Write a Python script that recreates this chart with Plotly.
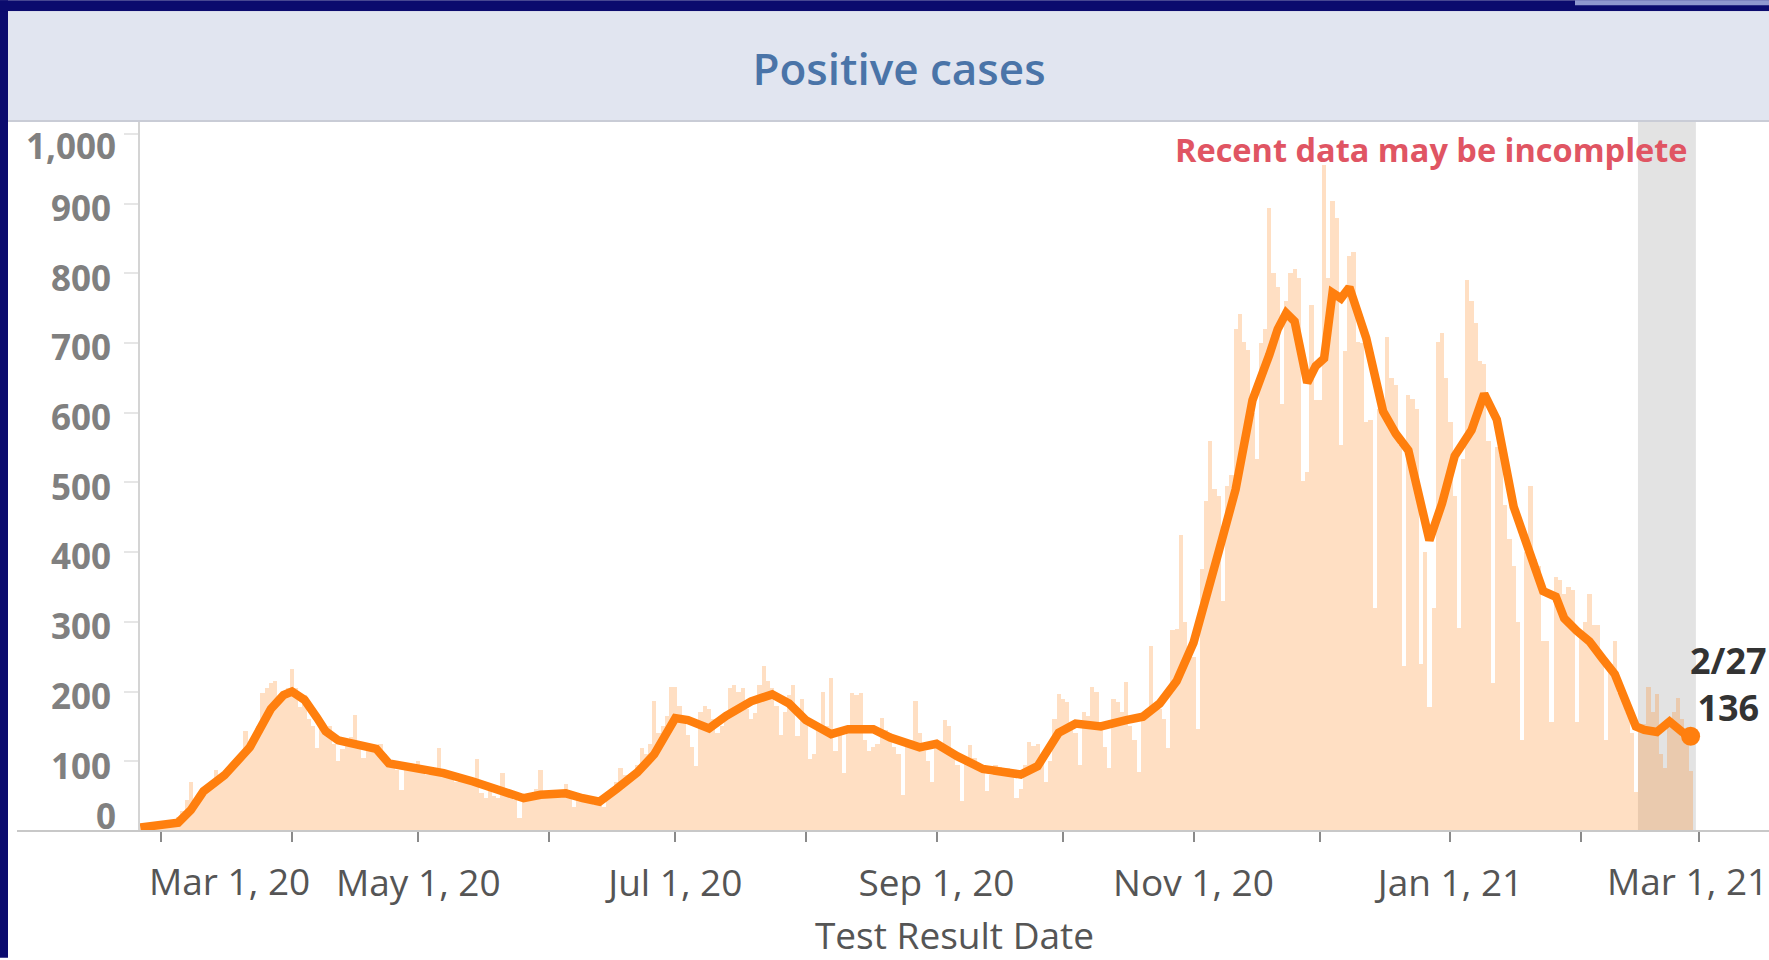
import pandas as pd
import plotly.graph_objects as go

# ---------------- data ----------------
# daily positive cases (bars), one list per month, starting 2020-02-25
bars_2020_02 = [2, 3, 5, 4, 6]
bars_2020_03 = [8, 9, 12, 15, 20, 28, 45, 70, 45, 50, 55, 62, 65, 87, 72, 78, 85, 95, 100, 108,
                143, 115, 125, 150, 198, 205, 212, 215, 190, 200, 205]
bars_2020_04 = [233, 205, 178, 195, 160, 150, 119, 155, 140, 150, 125, 100, 118, 130, 135, 166, 120, 105,
                115, 122, 118, 125, 110, 100, 95, 88, 59, 98, 95, 92]
bars_2020_05 = [100, 88, 80, 85, 90, 119, 88, 82, 75, 70, 80, 78, 72, 68, 104, 55, 48, 58, 50, 48,
                83, 52, 48, 45, 19, 44, 50, 55, 60, 87, 52]
bars_2020_06 = [55, 50, 58, 52, 67, 48, 35, 45, 50, 42, 40, 38, 45, 35, 55, 62, 70, 90, 80, 72,
                85, 95, 119, 110, 125, 186, 140, 150, 165, 207]
bars_2020_07 = [207, 180, 160, 138, 120, 93, 170, 180, 175, 160, 140, 150, 165, 205, 209, 200, 205, 175,
                160, 169, 210, 236, 215, 205, 180, 137, 170, 195, 209, 136, 190]
bars_2020_08 = [160, 104, 110, 145, 200, 150, 219, 115, 140, 83, 150, 198, 195, 198, 130, 115, 120, 125,
                162, 145, 140, 120, 110, 51, 125, 130, 186, 140, 115, 100, 70]
bars_2020_09 = [130, 120, 159, 150, 110, 95, 43, 100, 123, 105, 98, 90, 57, 80, 95, 92, 88, 90, 85, 47,
                60, 95, 128, 122, 125, 110, 71, 100, 160, 197]
bars_2020_10 = [190, 185, 150, 140, 94, 170, 165, 207, 200, 150, 120, 90, 190, 185, 170, 214, 150, 130,
                85, 160, 175, 266, 180, 175, 160, 119, 288, 290, 424, 300, 260]
bars_2020_11 = [250, 147, 376, 473, 559, 491, 480, 330, 495, 510, 720, 741, 702, 690, 600, 534, 700, 720,
                893, 800, 780, 612, 760, 800, 806, 793, 502, 515, 754, 618]
bars_2020_12 = [618, 955, 793, 903, 880, 553, 689, 825, 830, 702, 700, 586, 590, 320, 605, 610, 709, 650,
                640, 553, 236, 625, 620, 605, 240, 400, 178, 320, 702, 715, 650]
bars_2021_01 = [586, 480, 291, 534, 791, 760, 728, 674, 670, 560, 213, 551, 540, 468, 419, 380, 300, 130,
                400, 495, 390, 380, 272, 272, 157, 365, 360, 340, 350, 345, 157]
bars_2021_02 = [280, 300, 340, 296, 296, 250, 130, 240, 272, 198, 198, 170, 140, 56, 154, 154, 206, 170,
                196, 110, 91, 150, 170, 191, 160, 130, 86]

# 7-day average (line)
avg_dates = ["2020-02-25", "2020-02-29", "2020-03-05", "2020-03-08", "2020-03-11", "2020-03-16",
             "2020-03-22", "2020-03-27", "2020-03-30", "2020-04-01", "2020-04-04", "2020-04-07",
             "2020-04-09", "2020-04-12", "2020-04-15", "2020-04-21", "2020-04-24", "2020-04-28",
             "2020-05-01", "2020-05-07", "2020-05-14", "2020-05-21", "2020-05-26", "2020-05-30",
             "2020-06-05", "2020-06-09", "2020-06-13", "2020-06-17", "2020-06-22", "2020-06-26",
             "2020-06-29", "2020-07-01", "2020-07-04", "2020-07-09", "2020-07-13", "2020-07-19",
             "2020-07-24", "2020-07-28", "2020-08-01", "2020-08-07", "2020-08-11", "2020-08-17",
             "2020-08-21", "2020-08-28", "2020-09-01", "2020-09-06", "2020-09-12", "2020-09-17",
             "2020-09-21", "2020-09-25", "2020-09-28", "2020-09-30", "2020-10-04", "2020-10-10",
             "2020-10-16", "2020-10-20", "2020-10-24", "2020-10-28", "2020-11-01", "2020-11-04",
             "2020-11-07", "2020-11-11", "2020-11-15", "2020-11-19", "2020-11-21", "2020-11-23",
             "2020-11-25", "2020-11-28", "2020-11-30", "2020-12-02", "2020-12-04", "2020-12-06",
             "2020-12-08", "2020-12-12", "2020-12-16", "2020-12-19", "2020-12-22", "2020-12-27",
             "2020-12-30", "2021-01-02", "2021-01-06", "2021-01-09", "2021-01-12", "2021-01-16",
             "2021-01-20", "2021-01-23", "2021-01-26", "2021-01-28", "2021-01-31", "2021-02-03",
             "2021-02-06", "2021-02-09", "2021-02-11", "2021-02-14", "2021-02-16", "2021-02-19",
             "2021-02-22", "2021-02-25", "2021-02-27"]
avg_values = [5, 8, 12, 30, 57, 80,
              120, 175, 195, 200, 188, 162,
              143, 130, 125, 118, 97, 92,
              91, 83, 71, 57, 47, 52,
              54, 47, 42, 60, 84, 110,
              145, 162, 159, 147, 165, 186,
              196, 183, 159, 139, 146, 146,
              134, 120, 125, 107, 89, 84,
              81, 93, 120, 141, 154, 150,
              159, 164, 183, 215, 270, 340,
              401, 490, 618, 683, 720, 743,
              731, 643, 667, 678, 772, 764,
              780, 707, 602, 570, 546, 417,
              470, 538, 575, 627, 590, 465,
              400, 344, 336, 305, 287, 272,
              248, 225, 195, 150, 145, 142,
              157, 142, 136]

last_label_date = "2/27"
recent_band = ["2021-02-14 12:00", "2021-02-28 06:00"]

month_ticks = ["2020-03-01", "2020-04-01", "2020-05-01", "2020-06-01", "2020-07-01", "2020-08-01",
               "2020-09-01", "2020-10-01", "2020-11-01", "2020-12-01", "2021-01-01", "2021-02-01",
               "2021-03-01"]
month_tick_text = ["", "", "May 1, 20", "", "Jul 1, 20", "", "Sep 1, 20", "", "Nov 1, 20", "",
                   "Jan 1, 21", "", ""]
edge_labels = [("2020-03-01", "Mar 1, 20", 68), ("2021-03-01", "Mar 1, 21", -12)]
y_ticks = [0, 100, 200, 300, 400, 500, 600, 700, 800, 900, 1000]
y_tick_text = ["", "100", "200", "300", "400", "500", "600", "700", "800", "900", ""]
y_edge_labels = [(0, "0", 16), (1000, "1,000", -12)]

daily_cases = (bars_2020_02 + bars_2020_03 + bars_2020_04 + bars_2020_05 + bars_2020_06 + bars_2020_07
               + bars_2020_08 + bars_2020_09 + bars_2020_10 + bars_2020_11 + bars_2020_12
               + bars_2021_01 + bars_2021_02)
dates = pd.date_range("2020-02-25", periods=len(daily_cases), freq="D")

# ---------------- geometry helpers ----------------
W, H = 1769, 960
L, R, T, B = 140, 0, 122, 127
PW, PH = W - L - R, H - T - B


def px_x(px):
    return (px - L) / PW


def px_y(py):
    return (H - B - py) / PH


FONT = "Open Sans"
ORANGE = "#ff7f0e"
YTICK_FONT = dict(family=FONT, size=35, color="#808080", weight="bold")
XTICK_FONT = dict(family=FONT, size=37, color="#555555")

fig = go.Figure()
fig.add_trace(go.Bar(x=dates, y=daily_cases, width=86400000,
                     marker=dict(color="rgba(255,127,14,0.25)", line=dict(width=0)),
                     hoverinfo="skip", showlegend=False))
fig.add_trace(go.Scatter(x=pd.to_datetime(avg_dates), y=avg_values, mode="lines",
                         line=dict(color=ORANGE, width=8.5), showlegend=False))
fig.add_trace(go.Scatter(x=[pd.to_datetime(avg_dates[-1])], y=[avg_values[-1]], mode="markers",
                         marker=dict(color=ORANGE, size=19), showlegend=False))

shapes = [
    # navy frame
    dict(type="rect", xref="paper", yref="paper", x0=px_x(0), x1=px_x(8), y0=px_y(960), y1=px_y(0),
         fillcolor="#0b0b6e", line=dict(width=0), layer="below"),
    dict(type="rect", xref="paper", yref="paper", x0=px_x(0), x1=px_x(W), y0=px_y(11), y1=px_y(0),
         fillcolor="#0b0b6e", line=dict(width=0), layer="below"),
    dict(type="rect", xref="paper", yref="paper", x0=px_x(1575), x1=px_x(W), y0=px_y(5), y1=px_y(0),
         fillcolor="#8f98cf", line=dict(width=0), layer="below"),
    # title band
    dict(type="rect", xref="paper", yref="paper", x0=px_x(8), x1=px_x(W), y0=px_y(121), y1=px_y(11),
         fillcolor="#e1e5f0", line=dict(width=0), layer="below"),
    dict(type="line", xref="paper", yref="paper", x0=px_x(8), x1=px_x(W), y0=px_y(121), y1=px_y(121),
         line=dict(color="#c9ccd6", width=2), layer="below"),
    # recent data band
    dict(type="rect", xref="x", yref="paper", x0=recent_band[0], x1=recent_band[1], y0=0, y1=1,
         fillcolor="#e3e3e3", line=dict(width=0), layer="below"),
    # x baseline
    dict(type="line", xref="paper", yref="paper", x0=px_x(17), x1=px_x(W), y0=0, y1=0,
         line=dict(color="#c8c8c8", width=2), layer="above"),
]

annotations = [
    dict(text="Recent data may be incomplete", xref="paper", yref="paper", x=px_x(1690), y=px_y(150),
         xanchor="right", yanchor="middle", showarrow=False,
         font=dict(family=FONT, size=32.5, color="#e05563", weight="bold")),
    dict(text=f"{last_label_date}<br>{avg_values[-1]}", x=avg_dates[-1], y=avg_values[-1], xref="x", yref="y",
         xanchor="center", yanchor="middle", xshift=38, yshift=52, showarrow=False, align="center",
         font=dict(family=FONT, size=36, color="#333333", weight="bold")),
]
for d, txt, shift in edge_labels:
    annotations.append(dict(text=txt, x=d, xref="x", yref="paper", y=px_y(883), xanchor="center",
                            yanchor="middle", xshift=shift, showarrow=False, font=XTICK_FONT))
for v, txt, shift in y_edge_labels:
    annotations.append(dict(text=txt, x=px_x(118), xref="paper", y=v, yref="y", xanchor="right",
                            yanchor="middle", yshift=shift, showarrow=False, font=YTICK_FONT))

fig.update_layout(
    width=W, height=H,
    margin=dict(l=L, r=R, t=T, b=B, pad=0),
    paper_bgcolor="white", plot_bgcolor="white",
    bargap=0,
    showlegend=False,
    title=dict(text="Positive cases", xref="paper", yref="container", x=px_x(899), y=(H - 70) / H,
               xanchor="center", yanchor="middle",
               font=dict(family=FONT, size=44, color="#4a74a8", weight=600)),
    shapes=shapes,
    annotations=annotations,
    xaxis=dict(type="date", range=["2020-02-24 22:30", "2021-03-17 14:30"],
               tickmode="array", tickvals=month_ticks, ticktext=month_tick_text,
               ticks="outside", ticklen=10, tickwidth=2, tickcolor="#8a8a8a",
               showgrid=False, zeroline=False, showline=False,
               tickfont=XTICK_FONT,
               ticklabelstandoff=10,
               title=dict(text="Test Result Date", standoff=27,
                          font=dict(family=FONT, size=37, color="#555555"))),
    yaxis=dict(range=[0, 1017], tickmode="array", tickvals=y_ticks, ticktext=y_tick_text,
               ticks="outside", ticklen=14, tickwidth=2, tickcolor="#e6e6e6",
               showline=True, linecolor="#d4d4d4", linewidth=2,
               showgrid=False, zeroline=False,
               tickfont=YTICK_FONT, ticklabelshift=5,
               ticklabelstandoff=6),
)

fig.write_html("out.html", config={"displayModeBar": False},
               post_script="document.documentElement.style.overflow='hidden';"
                           "document.body.style.overflow='hidden';document.body.style.margin='0';")
